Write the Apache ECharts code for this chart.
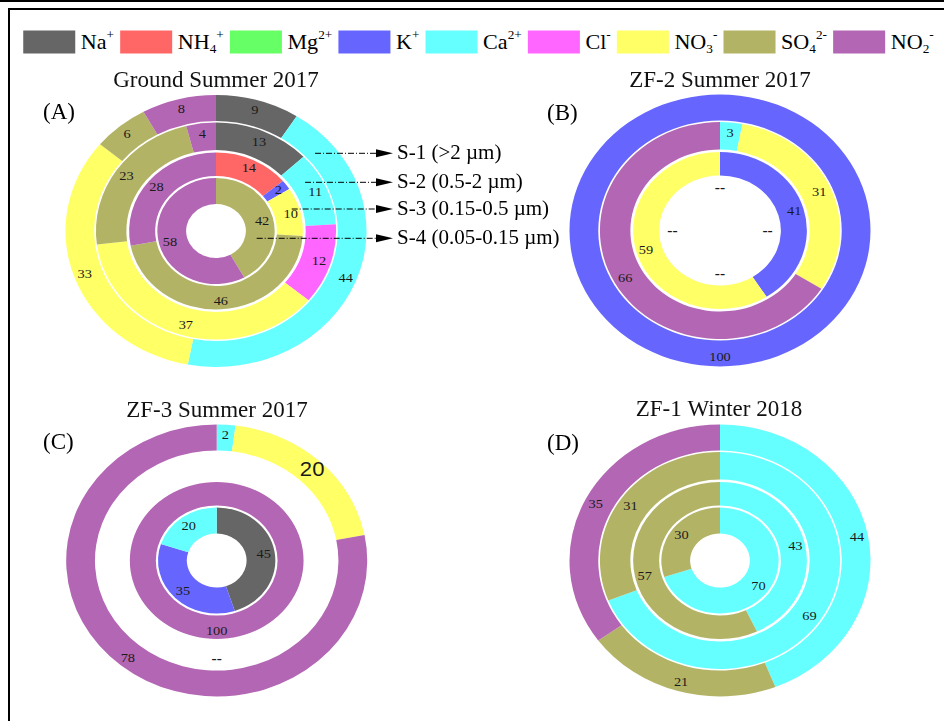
<!DOCTYPE html>
<html><head><meta charset="utf-8">
<script src="https://cdn.jsdelivr.net/npm/echarts@6.0.0/dist/echarts.min.js"></script>
<style>
html,body{margin:0;padding:0;background:#fff;width:944px;height:721px;overflow:hidden}
#pies{position:absolute;left:0;top:0;width:853px;height:721px;transform:scaleX(1.10668);transform-origin:0 0}
#txt{position:absolute;left:0;top:0;width:944px;height:721px;pointer-events:none}
</style></head><body>
<div id="pies"></div><div id="txt"></div>
<script>
// ---- data ----
const ions = ['Na+', 'NH4+', 'Mg2+', 'K+', 'Ca2+', 'Cl-', 'NO3-', 'SO42-', 'NO2-'];
const ionLabels = ['Na{sup|+}', 'NH{sub|4}{sup|+}', 'Mg{sup|2+}', 'K{sup|+}', 'Ca{sup|2+}', 'Cl{sup|-}', 'NO{sub|3}{sup|-}', 'SO{sub|4}{sup|2-}', 'NO{sub|2}{sup|-}'];
const sizeFractions = ['S-1 (>2 \u00b5m)', 'S-2 (0.5-2 \u00b5m)', 'S-3 (0.15-0.5 \u00b5m)', 'S-4 (0.05-0.15 \u00b5m)'];
const panelTitles = ['Ground Summer 2017', 'ZF-2 Summer 2017', 'ZF-3 Summer 2017', 'ZF-1 Winter 2018'];
const panelTags = ['(A)', '(B)', '(C)', '(D)'];
// percentages per ring, in ion order; string arrays = not measured ("--")
const groundS1 = [9, 0, 0, 0, 44, 0, 33, 6, 8];
const groundS2 = [13, 0, 0, 0, 11, 12, 37, 23, 4];
const groundS3 = [0, 14, 0, 2, 0, 0, 10, 46, 28];
const groundS4 = [0, 0, 0, 0, 0, 0, 0, 42, 58];
const zf2S1 = [0, 0, 0, 100, 0, 0, 0, 0, 0];
const zf2S2 = [0, 0, 0, 0, 3, 0, 31, 0, 66];
const zf2S3 = [0, 0, 0, 41, 0, 0, 59, 0, 0];
const zf2S4 = ['--', '--', '--', '--'];
const zf3S1 = [0, 0, 0, 0, 2, 0, 20, 0, 78];
const zf3S2 = ['--'];
const zf3S3 = [0, 0, 0, 0, 0, 0, 0, 0, 100];
const zf3S4 = [45, 0, 0, 35, 20, 0, 0, 0, 0];
const zf1S1 = [0, 0, 0, 0, 44, 0, 0, 21, 35];
const zf1S2 = [0, 0, 0, 0, 69, 0, 0, 31, 0];
const zf1S3 = [0, 0, 0, 0, 43, 0, 0, 57, 0];
const zf1S4 = [0, 0, 0, 0, 70, 0, 0, 30, 0];

// ---- styles / layout ----
const ionColors = ['#666666', '#FF6666', '#66FF66', '#6666FF', '#66FFFF', '#FF66FF', '#FFFF66', '#B3B366', '#B366B3'];
const panels = [
  [groundS1, groundS2, groundS3, groundS4],
  [zf2S1, zf2S2, zf2S3, zf2S4],
  [zf3S1, zf3S2, zf3S3, zf3S4],
  [zf1S1, zf1S2, zf1S3, zf1S4]
];
const SX = 1.10668;
const centersPx = [[216, 231], [720, 230.5], [216.7, 560.5], [720, 560.5]];
const ringRadii = [[110, 136], [81, 108.5], [55, 78.5], [27, 53]];
const labelOverride = { '2-0-6': { fontSize: 20, fontFamily: 'Liberation Sans' } };
const serif = 'Liberation Serif';

function ringSeries(values, pIdx, rIdx) {
  const c = centersPx[pIdx];
  let data, startAngle = 90;
  if (typeof values[0] === 'string') {
    data = values.map(t => ({ name: t, value: 1, itemStyle: { color: 'rgba(0,0,0,0)' }, label: { formatter: t, fontSize: 14, fontWeight: 'bold' } }));
    if (values.length > 1) startAngle = 90 + 180 / values.length;
  } else {
    data = values.map((v, i) => {
      const item = { name: ions[i], value: v, itemStyle: { color: ionColors[i] } };
      if (!(v > 0)) item.label = { show: false };
      const ov = labelOverride[pIdx + '-' + rIdx + '-' + i];
      if (ov) item.label = ov;
      return item;
    });
  }
  return {
    type: 'pie', center: [c[0] / SX, c[1]], radius: ringRadii[rIdx], startAngle, clockwise: true,
    silent: true, animation: false, avoidLabelOverlap: false, labelLine: { show: false },
    emphasis: { disabled: true }, itemStyle: { borderWidth: 0 }, minAngle: 0,
    label: { show: true, position: 'inside', formatter: '{c}', fontFamily: serif, fontSize: 13, color: '#1a1a1a' },
    data
  };
}

const series = [];
panels.forEach((rings, p) => rings.forEach((vals, r) => series.push(ringSeries(vals, p, r))));

const pies = echarts.init(document.getElementById('pies'), null, { renderer: 'svg' });
pies.setOption({
  backgroundColor: '#fff',
  animation: false,
  legend: {
    data: ions, left: 21, top: 29, padding: 0, itemWidth: 47, itemHeight: 23, itemGap: 5.5,
    icon: 'rect', selectedMode: false,
    formatter: n => ionLabels[ions.indexOf(n)],
    textStyle: {
      fontFamily: serif, fontSize: 20, color: '#000', lineHeight: 26,
      rich: {
        sup: { fontFamily: serif, fontSize: 12, lineHeight: 12, verticalAlign: 'top', color: '#000' },
        sub: { fontFamily: serif, fontSize: 12, lineHeight: 12, verticalAlign: 'bottom', color: '#000' }
      }
    }
  },
  series
});

// ---- text layer (unstretched) ----
const titlePos = [[216, 69], [720, 69], [217, 399], [719, 398]];
const tagPos = [[43, 113], [547, 114], [43, 443], [547, 444]];
const annotY = [153.3, 182.3, 209, 238.3];
const annotStart = [315, 305, 291.7, 256.7];
const arrowTip = 393;

const graphics = [];
// frame
graphics.push({ type: 'rect', shape: { x: 0, y: 0, width: 944, height: 2 }, style: { fill: '#000' } });
graphics.push({ type: 'line', shape: { x1: 9, y1: 9, x2: 9, y2: 721 }, style: { stroke: '#000', lineWidth: 2 } });
graphics.push({ type: 'line', shape: { x1: 8, y1: 9, x2: 944, y2: 9 }, style: { stroke: '#000', lineWidth: 2 } });
panelTags.forEach((t, i) => graphics.push({
  type: 'text', style: { text: t, x: tagPos[i][0], y: tagPos[i][1], font: '23px "Liberation Serif"', fill: '#000', align: 'left', verticalAlign: 'middle' }
}));
sizeFractions.forEach((t, i) => {
  const y = annotY[i];
  graphics.push({ type: 'line', shape: { x1: annotStart[i], y1: y, x2: arrowTip - 14, y2: y }, style: { stroke: '#000', lineWidth: 1, lineDash: [6, 2, 1, 2] } });
  graphics.push({ type: 'polygon', shape: { points: [[arrowTip - 17, y - 4], [arrowTip, y], [arrowTip - 17, y + 4]] }, style: { fill: '#000' } });
  graphics.push({ type: 'text', style: { text: t, x: arrowTip + 4, y: y, font: '21px "Liberation Serif"', fill: '#000', align: 'left', verticalAlign: 'middle' } });
});

const txt = echarts.init(document.getElementById('txt'));
txt.setOption({
  animation: false,
  title: panelTitles.map((t, i) => ({
    text: t, left: titlePos[i][0], top: titlePos[i][1], textAlign: 'center', padding: 0,
    textStyle: { fontFamily: serif, fontSize: 23, fontWeight: 'normal', color: '#111' }
  })),
  graphic: graphics
});
</script>
</body></html>
